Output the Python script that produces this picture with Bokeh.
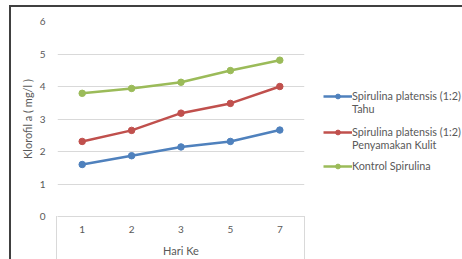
from bokeh.plotting import figure
from bokeh.layouts import row
from bokeh.models import Legend, LegendItem, FactorRange, Range1d, FixedTicker
from bokeh.embed import file_html
from bokeh.resources import INLINE

days = ["1", "2", "3", "5", "7"]
tahu = [1.60, 1.87, 2.14, 2.31, 2.66]
kulit = [2.31, 2.65, 3.18, 3.48, 4.00]
kontrol = [3.79, 3.94, 4.13, 4.49, 4.81]
y_ticks = [0, 1, 2, 3, 4, 5, 6]
series_names = ["Spirulina platensis (1:2)", "Spirulina platensis (1:2)", "Kontrol Spirulina"]
name_cont = ["Tahu", "Penyamakan Kulit", None]
colors = ["#4F81BD", "#C0504D", "#9BBB59"]

FONT = "Lato"
GREY = "#595959"

# outer chart border (top/left) and the light box around the category labels
bg = ", ".join([
    "linear-gradient(#404040,#404040) 9px 5px / 2px 100% no-repeat",
    "linear-gradient(#404040,#404040) 9px 5px / 100% 2px no-repeat",
    "linear-gradient(#D9D9D9,#D9D9D9) 56px 216px / 1px 100% no-repeat",
    "linear-gradient(#D9D9D9,#D9D9D9) 304px 216px / 1px 100% no-repeat",
    "#FFFFFF",
])

p = figure(width=310, height=259,
           x_range=FactorRange(*days, range_padding=0),
           y_range=Range1d(0, 6),
           output_backend="svg", toolbar_location=None,
           min_border_left=57, min_border_right=6,
           min_border_top=21, min_border_bottom=43)
p.outline_line_color = None
p.background_fill_color = None
p.border_fill_color = None

p.xgrid.grid_line_color = None
p.ygrid.grid_line_color = "#D9D9D9"
p.ygrid.grid_line_width = 1
p.yaxis.ticker = FixedTicker(ticks=y_ticks)

for ax in (p.xaxis[0], p.yaxis[0]):
    ax.major_tick_line_color = None
    ax.minor_tick_line_color = None
    ax.major_tick_out = 0
    ax.major_tick_in = 0
    ax.major_label_text_font = FONT
    ax.major_label_text_font_size = "10px"
    ax.major_label_text_color = GREY
    ax.axis_label_text_font = FONT
    ax.axis_label_text_font_size = "11px"
    ax.axis_label_text_color = GREY
    ax.axis_label_text_font_style = "normal"

p.yaxis.axis_line_color = None
p.yaxis.major_label_standoff = 12
p.yaxis.axis_label = "Klorofil a ( mg/l )"
p.yaxis.axis_label_standoff = 3

p.xaxis.axis_line_color = "#D9D9D9"
p.xaxis.major_label_standoff = 9
p.xaxis.axis_label = "Hari Ke"
p.xaxis.axis_label_standoff = 8

# legend panel: a frameless figure to the right of the plot
q = figure(width=152, height=259,
           x_range=FactorRange(*days), y_range=Range1d(0, 6),
           output_backend="svg", toolbar_location=None,
           x_axis_type=None, y_axis_type=None,
           min_border=0)
q.outline_line_color = None
q.background_fill_color = None
q.border_fill_color = None
q.xgrid.grid_line_color = None
q.ygrid.grid_line_color = None

legend_locs = [(13, 101), (13, 65), (13, 44)]
for vals, name, cont, col, loc in zip([tahu, kulit, kontrol], series_names, name_cont,
                                      colors, legend_locs):
    p.line(days, vals, line_color=col, line_width=2.5)
    p.scatter(days, vals, marker="circle", size=6.5, fill_color=col, line_color=col)

    l1 = q.line(days, vals, line_color=col, line_width=2.5, visible=False)
    l2 = q.scatter(days, vals, marker="circle", size=6.5, fill_color=col,
                   line_color=col, visible=False)
    its = [LegendItem(label=name, renderers=[l1, l2])]
    if cont:
        blank = q.line(days, vals, line_alpha=0, visible=False)
        its.append(LegendItem(label=cont, renderers=[blank]))
    q.add_layout(Legend(items=its, location=loc,
                        label_text_font=FONT, label_text_font_size="10.8px",
                        label_text_color=GREY, glyph_width=29, glyph_height=12,
                        label_height=12, label_standoff=0, spacing=0,
                        padding=0, margin=0, inactive_fill_alpha=0,
                        border_line_color=None, background_fill_alpha=0),
                 "center")

layout = row(p, q, styles={"background": bg})

open("out.html", "w").write(file_html(layout, INLINE))
